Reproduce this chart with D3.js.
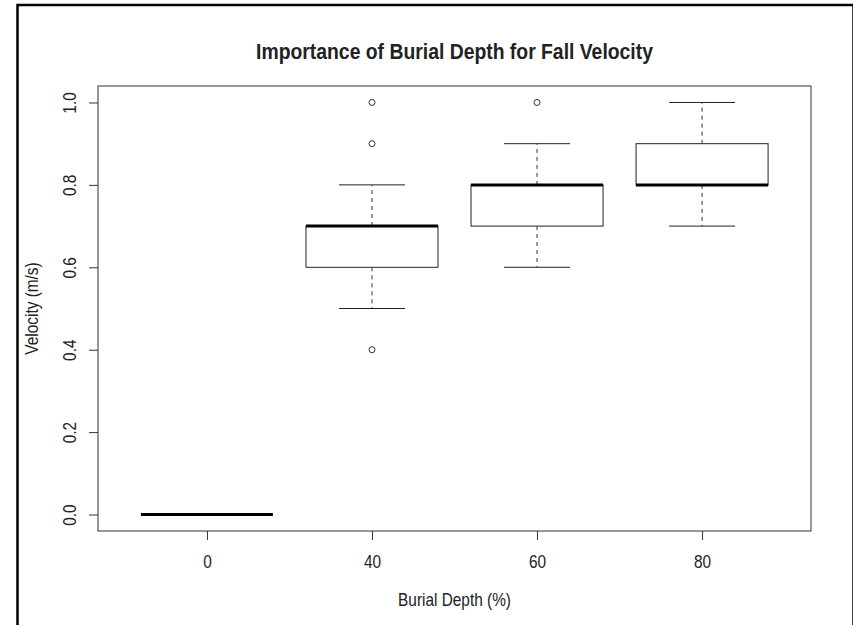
<!DOCTYPE html>
<html>
<head>
<style>
body { margin: 0; background: #fff; }
text { font-family: Arial, "Liberation Sans", sans-serif; fill: #222; }
.axis path { display: none; }
.axis line { stroke: #333; }
.axis text { font-size: 17.5px; }
</style>
<title>box</title>
<script src="https://cdn.jsdelivr.net/npm/d3@7/dist/d3.min.js"></script>
</head>
<body>
<svg width="853" height="625"></svg>
<script>

// box statistics
var depths = ["0", "40", "60", "80"];
var lowWhisker = [0, 0.5, 0.6, 0.7];
var q1 = [0, 0.6, 0.7, 0.8];
var median = [0, 0.7, 0.8, 0.8];
var q3 = [0, 0.7, 0.8, 0.9];
var highWhisker = [0, 0.8, 0.9, 1.0];
var outliers = [[], [1.0, 0.9, 0.4], [1.0], []];
var yTicks = [0, 0.2, 0.4, 0.6, 0.8, 1.0];

var svg = d3.select("svg"),
    margin = {top: 86, right: 42, bottom: 94, left: 98},
    width = +svg.attr("width") - margin.left - margin.right,
    height = +svg.attr("height") - margin.top - margin.bottom;

// text in the picture is a bit narrow
var narrow = " scale(0.88,1)";

// outer frame
svg.append("rect")
    .attr("x", 17.5).attr("y", 5)
    .attr("width", 836).attr("height", 700)
    .attr("fill", "none")
    .attr("stroke", "#000")
    .attr("stroke-width", 2.5);

var x = d3.scalePoint().domain(depths).range([0, width]).padding(0.66),
    y = d3.scaleLinear().domain([-0.04, 1.04]).range([height, 0]);

var step = x.step(),
    boxW = step * 0.8,
    stapleW = step * 0.4;

var g = svg.append("g")
    .attr("transform", "translate(" + margin.left + "," + margin.top + ")");

var data = depths.map(function(d, i) {
  return {depth: d, lo: lowWhisker[i], q1: q1[i], med: median[i], q3: q3[i], hi: highWhisker[i], out: outliers[i]};
});

// axes
var xAxis = g.append("g")
    .attr("class", "axis")
    .attr("transform", "translate(0," + height + ")")
    .call(d3.axisBottom(x).tickSize(9).tickSizeOuter(0));
xAxis.selectAll("text")
    .attr("y", null).attr("dy", null)
    .attr("transform", "translate(0,37)" + narrow);

var yAxis = g.append("g")
    .attr("class", "axis")
    .call(d3.axisLeft(y).tickValues(yTicks).tickSize(9).tickSizeOuter(0).tickFormat(d3.format(".1f")));
yAxis.selectAll("text")
    .attr("x", null).attr("dy", null)
    .attr("text-anchor", "middle")
    .attr("transform", "translate(-22,0) rotate(-90)" + narrow);

// boxes
var box = g.selectAll(".box")
    .data(data)
  .enter().append("g")
    .attr("class", "box")
    .attr("transform", function(d) { return "translate(" + x(d.depth) + ",0)"; });

box.append("line")
    .attr("x1", 0).attr("x2", 0)
    .attr("y1", function(d) { return y(d.q3); })
    .attr("y2", function(d) { return y(d.hi); })
    .attr("stroke", "#333").attr("stroke-dasharray", "4,4");
box.append("line")
    .attr("x1", 0).attr("x2", 0)
    .attr("y1", function(d) { return y(d.q1); })
    .attr("y2", function(d) { return y(d.lo); })
    .attr("stroke", "#333").attr("stroke-dasharray", "4,4");

box.selectAll(".staple")
    .data(function(d) { return [d.lo, d.hi]; })
  .enter().append("line")
    .attr("class", "staple")
    .attr("x1", -stapleW / 2).attr("x2", stapleW / 2)
    .attr("y1", function(v) { return y(v); })
    .attr("y2", function(v) { return y(v); })
    .attr("stroke", "#222");

box.append("rect")
    .attr("x", -boxW / 2)
    .attr("width", boxW)
    .attr("y", function(d) { return y(d.q3); })
    .attr("height", function(d) { return y(d.q1) - y(d.q3); })
    .attr("fill", "#fff")
    .attr("stroke", "#222");

box.append("line")
    .attr("x1", -boxW / 2).attr("x2", boxW / 2)
    .attr("y1", function(d) { return y(d.med); })
    .attr("y2", function(d) { return y(d.med); })
    .attr("stroke", "#000").attr("stroke-width", 3);

box.selectAll("circle")
    .data(function(d) { return d.out; })
  .enter().append("circle")
    .attr("cx", 0)
    .attr("cy", function(v) { return y(v); })
    .attr("r", 3)
    .attr("fill", "none")
    .attr("stroke", "#333");

// plot box
g.append("rect")
    .attr("width", width).attr("height", height)
    .attr("fill", "none")
    .attr("stroke", "#333");

// titles
svg.append("text")
    .attr("transform", "translate(" + (margin.left + width / 2) + ",59)" + narrow)
    .attr("text-anchor", "middle")
    .style("font-size", "22px").style("font-weight", "bold")
    .text("Importance of Burial Depth for Fall Velocity");

svg.append("text")
    .attr("transform", "translate(" + (margin.left + width / 2) + ",605.5)" + narrow)
    .attr("text-anchor", "middle")
    .style("font-size", "17.5px")
    .text("Burial Depth (%)");

svg.append("text")
    .attr("transform", "translate(38," + (margin.top + height / 2) + ") rotate(-90)" + narrow)
    .attr("text-anchor", "middle")
    .style("font-size", "17.5px")
    .text("Velocity (m/s)");

</script>
</body>
</html>
